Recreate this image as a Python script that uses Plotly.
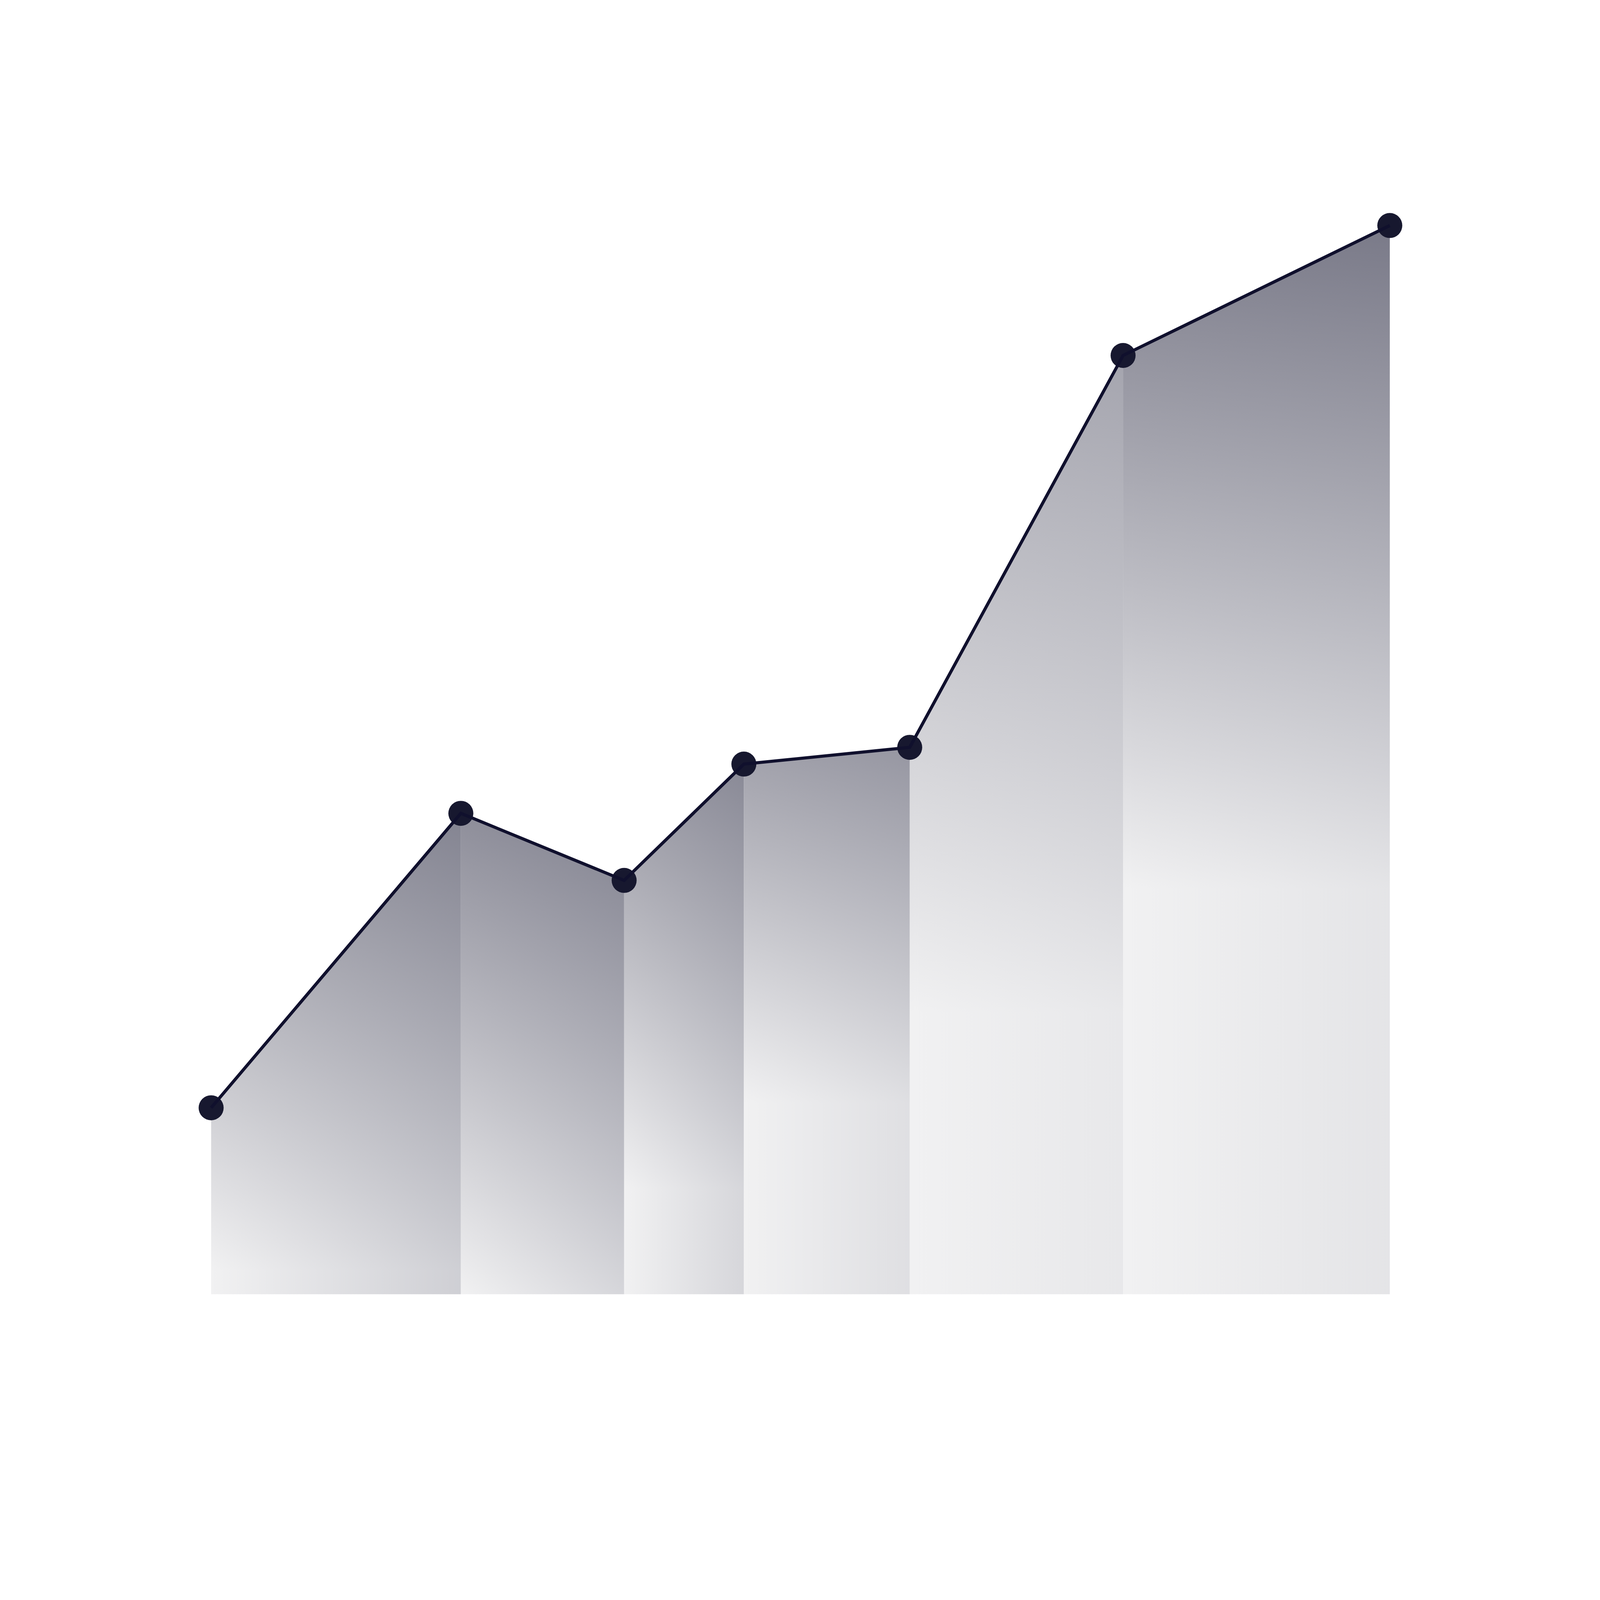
import plotly.graph_objects as go

# points along the line (x in arbitrary units, y = value)
x_vals = [0, 10.72, 17.73, 22.87, 29.99, 39.15, 50.6]
y_vals = [17.8, 45.9, 39.5, 50.6, 52.2, 89.6, 102.0]

# per segment shading: top grey level, light plateau, horizontal darkening
seg_top = [148, 142, 150, 160, 170, 126]
seg_plateau = [0.05, 0.0, 0.2, 0.35, 0.3, 0.38]
seg_alpha = [0.19, 0.15, 0.15, 0.10, 0.05, 0.07]


def grey(v):
    b = min(255, round(v + (242 - v) * 0.12))
    return "rgb(%d,%d,%d)" % (v, v, b)


LIGHT = "rgb(241,241,242)"
fig = go.Figure()

for i in range(len(x_vals) - 1):
    xs = x_vals[i:i + 2]
    ys = y_vals[i:i + 2]
    # vertical gradient, light at the bottom
    fig.add_trace(go.Scatter(
        x=xs, y=ys, mode="none", fill="tozeroy",
        fillgradient=dict(type="vertical", start=0, stop=max(ys),
                          colorscale=[[0, LIGHT], [seg_plateau[i], LIGHT], [1, grey(seg_top[i])]]),
        hoverinfo="skip", showlegend=False))
    # darker towards the right side of each segment
    fig.add_trace(go.Scatter(
        x=xs, y=ys, mode="none", fill="tozeroy",
        fillgradient=dict(type="horizontal", start=xs[0], stop=xs[1],
                          colorscale=[[0, "rgba(60,62,85,0)"], [1, "rgba(60,62,85,%s)" % seg_alpha[i]]]),
        hoverinfo="skip", showlegend=False))

fig.add_trace(go.Scatter(x=x_vals, y=y_vals, mode="markers",
                         marker=dict(size=64, color="#17182f"),
                         hoverinfo="skip", showlegend=False))
fig.add_trace(go.Scatter(x=x_vals, y=y_vals, mode="lines",
                         line=dict(color="#10102d", width=8),
                         hoverinfo="skip", showlegend=False))

fig.update_xaxes(visible=False, range=[-8.93, 59.49])
fig.update_yaxes(visible=False, range=[-29.475, 123.225])
fig.update_layout(autosize=True, margin=dict(l=0, r=0, t=0, b=0),
                  plot_bgcolor="white", paper_bgcolor="white")

fig.write_html("out.html", default_width="100%", default_height="100vh")
